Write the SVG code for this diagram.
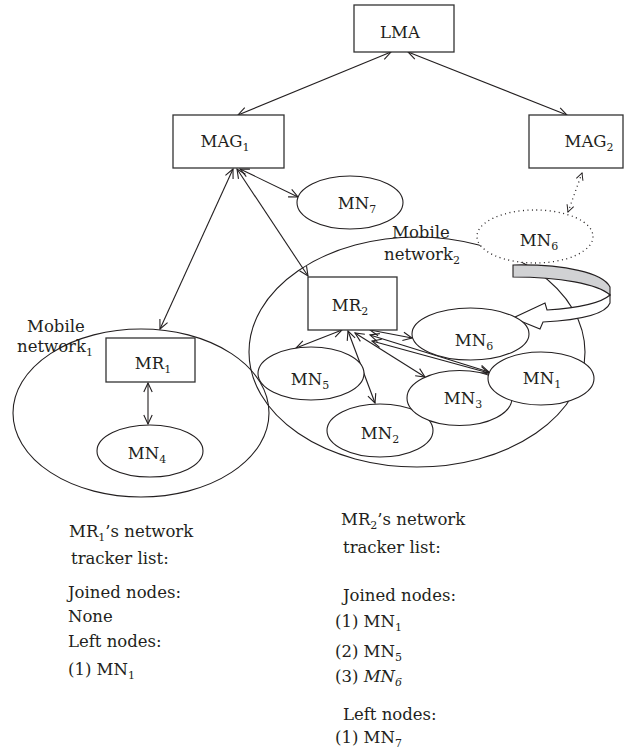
<svg xmlns="http://www.w3.org/2000/svg" width="631" height="754" viewBox="0 0 631 754">
<style>
  text { font-family: "DejaVu Serif", serif; font-size: 16.5px; fill: #231f20; }
  .sub { font-size: 11px; }
  .box { fill: #fff; stroke: #333; stroke-width: 1.3; }
  .node { fill: #fff; stroke: #231f20; stroke-width: 1.1; }
  .net { fill: none; stroke: #231f20; stroke-width: 1.1; }
  .link { fill: none; stroke: #231f20; stroke-width: 1.1; marker-start: url(#ah); marker-end: url(#ah); }
  .dot { fill: none; stroke: #231f20; stroke-width: 1.3; stroke-dasharray: 1 3.5; marker-start: url(#ahd); marker-end: url(#ahd); }
  .mid { text-anchor: middle; }
</style>
<defs>
  <marker id="ah" markerUnits="userSpaceOnUse" markerWidth="12" markerHeight="12" refX="10" refY="5" orient="auto-start-reverse" overflow="visible">
    <path d="M1,0.8 L10,5 L1,9.2" fill="none" stroke="#231f20" stroke-width="1.1"/>
  </marker>
  <marker id="ahd" markerUnits="userSpaceOnUse" markerWidth="12" markerHeight="12" refX="8" refY="4" orient="auto-start-reverse" overflow="visible">
    <path d="M1,0.5 L8,4 L1,7.5" fill="none" stroke="#231f20" stroke-width="1"/>
  </marker>
</defs>
<g id="mobile-network-2">
  <ellipse class="net" cx="417" cy="352" rx="168" ry="115"/>
  <text x="392" y="238">Mobile</text>
  <text x="384" y="260">network<tspan class="sub" dy="4">2</tspan></text>
</g>
<g id="mobile-network-1">
  <ellipse class="net" cx="141" cy="413" rx="128" ry="84"/>
  <text x="27" y="332">Mobile</text>
  <text x="17" y="352">network<tspan class="sub" dy="4">1</tspan></text>
</g>

<g id="connectors">
  <line class="link" x1="391" y1="52" x2="238" y2="115"/>
  <line class="link" x1="408" y1="52" x2="567" y2="115"/>
  <line class="link" x1="240" y1="169" x2="298" y2="197"/>
  <line class="link" x1="233" y1="169" x2="160" y2="329"/>
  <line class="link" x1="237" y1="169" x2="308" y2="276"/>
  <line class="dot" x1="582" y1="173" x2="568" y2="212"/>
  <line class="link" x1="148" y1="383" x2="148" y2="424"/>
  <line class="link" x1="342" y1="330" x2="296" y2="348"/>
  <line class="link" x1="348" y1="331" x2="375" y2="403"/>
  <line class="link" x1="355" y1="333" x2="425" y2="377"/>
  <line class="link" x1="370" y1="330" x2="412" y2="338"/>
  <line class="link" x1="370" y1="335" x2="489" y2="372"/>
  <line class="link" x1="372" y1="341" x2="489" y2="373"/>
</g>

<g id="move-arrow">
  <path d="M513,265 C565,264 603,273 610,287 L610,295 C598,284 560,277 513,277 Z" fill="#d1d2d4" stroke="#231f20" stroke-width="1.1"/>
  <path d="M610,295 C600,304 578,308 547,310 L545,303 L513,318 L540,329 L543,322 C580,320 606,314 610,303 Z" fill="#fff" stroke="#231f20" stroke-width="1.1"/>
</g>

<g id="LMA">
  <rect class="box" x="354" y="5" width="100" height="47"/>
  <text class="mid" x="400" y="38">LMA</text>
</g>
<g id="MAG1">
  <rect class="box" x="173" y="115" width="111" height="53"/>
  <text class="mid" x="225" y="147">MAG<tspan class="sub" dy="4">1</tspan></text>
</g>
<g id="MAG2">
  <rect class="box" x="529" y="115" width="94" height="53"/>
  <text class="mid" x="589" y="147">MAG<tspan class="sub" dy="4">2</tspan></text>
</g>
<g id="MN7">
  <ellipse class="node" cx="350" cy="202.5" rx="53" ry="26.5"/>
  <text class="mid" x="357" y="209">MN<tspan class="sub" dy="4">7</tspan></text>
</g>
<g id="MN6-old">
  <ellipse cx="535" cy="236.5" rx="58" ry="26.5" fill="#fff" stroke="#231f20" stroke-width="1.3" stroke-dasharray="1 3.5"/>
  <text class="mid" x="539" y="246">MN<tspan class="sub" dy="4">6</tspan></text>
</g>
<g id="MR2">
  <rect class="box" x="308" y="277" width="89" height="53"/>
  <text class="mid" x="350" y="311">MR<tspan class="sub" dy="4">2</tspan></text>
</g>
<g id="MN6">
  <ellipse class="node" cx="470.5" cy="334" rx="58.5" ry="26"/>
  <text class="mid" x="474" y="346">MN<tspan class="sub" dy="4">6</tspan></text>
</g>
<g id="MN5">
  <ellipse class="node" cx="311" cy="373.5" rx="53" ry="26.5"/>
  <text class="mid" x="310" y="385">MN<tspan class="sub" dy="4">5</tspan></text>
</g>
<g id="MN2">
  <ellipse class="node" cx="380" cy="430.5" rx="53" ry="26.5"/>
  <text class="mid" x="380" y="439">MN<tspan class="sub" dy="4">2</tspan></text>
</g>
<g id="MN3">
  <ellipse class="node" cx="459.5" cy="398" rx="52.5" ry="27.5"/>
  <text class="mid" x="463" y="404">MN<tspan class="sub" dy="4">3</tspan></text>
</g>
<g id="MN1">
  <ellipse class="node" cx="541" cy="378.5" rx="53" ry="26.5"/>
  <text class="mid" x="542" y="384">MN<tspan class="sub" dy="4">1</tspan></text>
</g>
<g id="MR1">
  <rect class="box" x="106" y="338" width="89" height="44"/>
  <text class="mid" x="153" y="369">MR<tspan class="sub" dy="4">1</tspan></text>
</g>
<g id="MN4">
  <ellipse class="node" cx="150" cy="451" rx="53" ry="26"/>
  <text class="mid" x="147" y="459">MN<tspan class="sub" dy="4">4</tspan></text>
</g>

<g id="MR1-list">
  <text x="69" y="537">MR<tspan class="sub" dy="4">1</tspan><tspan dy="-4">’s network</tspan></text>
  <text x="71" y="564">tracker list:</text>
  <text x="68" y="598">Joined nodes:</text>
  <text x="68" y="622">None</text>
  <text x="68" y="647">Left nodes:</text>
  <text x="68" y="675">(1) MN<tspan class="sub" dy="4">1</tspan></text>
</g>
<g id="MR2-list">
  <text x="341" y="525">MR<tspan class="sub" dy="4">2</tspan><tspan dy="-4">’s network</tspan></text>
  <text x="343" y="553">tracker list:</text>
  <text x="343" y="601">Joined nodes:</text>
  <text x="335" y="627">(1) MN<tspan class="sub" dy="4">1</tspan></text>
  <text x="335" y="657">(2) MN<tspan class="sub" dy="4">5</tspan></text>
  <text x="335" y="682">(3) <tspan font-style="italic">MN<tspan class="sub" dy="4">6</tspan></tspan></text>
  <text x="343" y="720">Left nodes:</text>
  <text x="335" y="743">(1) MN<tspan class="sub" dy="4">7</tspan></text>
</g>
</svg>
